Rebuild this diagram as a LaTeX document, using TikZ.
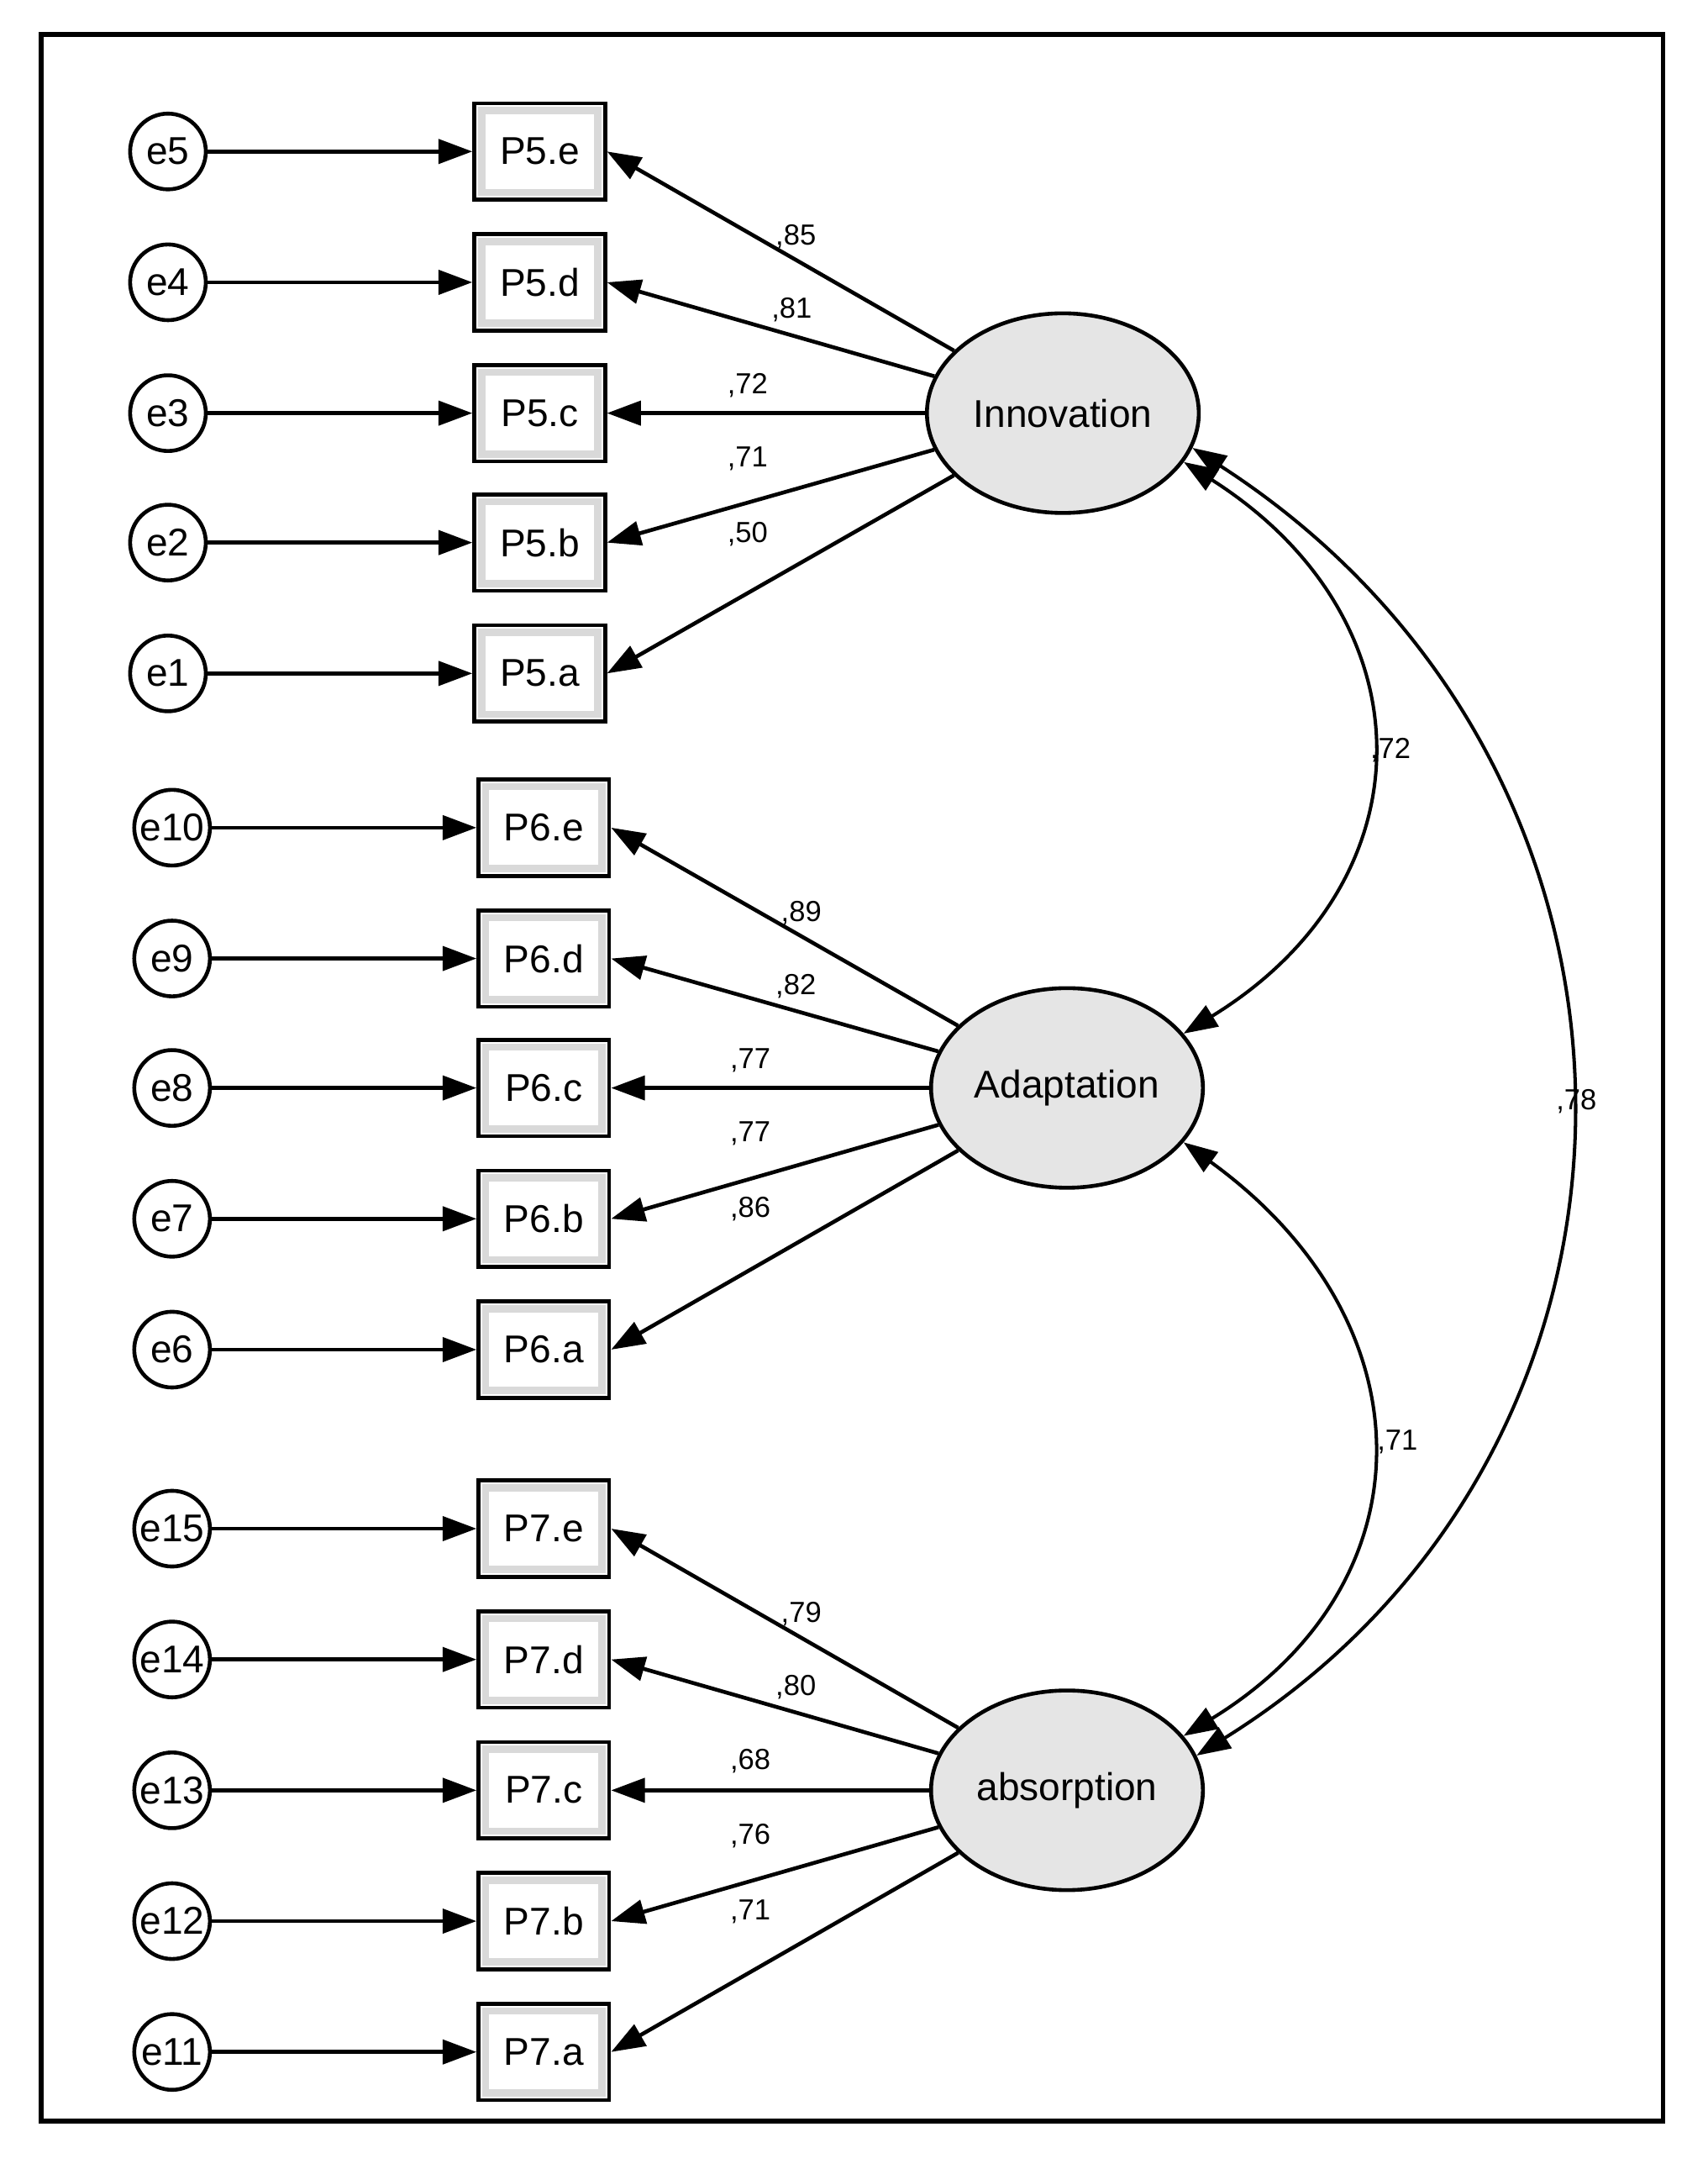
\documentclass[tikz,border=0pt]{standalone}
\usepackage{fontspec}
\setmainfont{Liberation Sans}
\usetikzlibrary{arrows.meta,shapes.geometric}
\begin{document}
\begin{tikzpicture}[x=0.02cm,y=-0.02cm,
  err/.style={circle,draw,line width=1.6pt,minimum size=1.1cm,inner sep=0pt,font=\fontsize{16}{18}\selectfont},
  obs/.style={draw,line width=1.6pt,minimum width=1.9cm,minimum height=1.4cm,inner sep=0pt,font=\fontsize{16}{18}\selectfont,
     path picture={\draw[gray!30,line width=3pt] ([xshift=3pt,yshift=3pt]path picture bounding box.south west) rectangle ([xshift=-3pt,yshift=-3pt]path picture bounding box.north east);}},
  lat/.style={ellipse,draw,line width=1.6pt,fill=gray!20,minimum width=3.95cm,minimum height=2.9cm,inner sep=0pt,font=\fontsize{16}{18}\selectfont},
  arr/.style={-{Triangle[length=14pt,width=10pt]},line width=1.6pt},
  cov/.style={{Triangle[length=14pt,width=10pt]}-{Triangle[length=14pt,width=10pt]},line width=1.4pt},
  lab/.style={font=\fontsize{12}{14}\selectfont,inner sep=1pt}]
\useasboundingbox (0,0) rectangle (1240,1575);
\draw[line width=2pt] (30,25) rectangle (1208,1540);
\node[lat] (L1) at (772,300) {Innovation};
\node[lat] (L2) at (775,790) {Adaptation};
\node[lat] (L3) at (775,1300) {absorption};
\foreach \i/\n/\y/\l/\lx/\ly in {5/e/110/85/578/172, 4/d/205/81/575/225, 3/c/300/72/543/280, 2/b/394/71/543/333, 1/a/489/50/543/388}{
  \node[err] (e\i) at (122,\y) {e\i};
  \node[obs] (P5\n) at (392,\y) {P5.\n};
  \draw[arr] (e\i) -- (P5\n);
  \draw[arr] (L1) -- (P5\n.east);
  \node[lab] at (\lx,\ly) {,\l};
}
\foreach \i/\n/\y/\l/\lx/\ly in {10/e/601/89/582/663, 9/d/696/82/578/716, 8/c/790/77/545/770, 7/b/885/77/545/823, 6/a/980/86/545/878}{
  \node[err] (e\i) at (125,\y) {e\i};
  \node[obs] (P6\n) at (395,\y) {P6.\n};
  \draw[arr] (e\i) -- (P6\n);
  \draw[arr] (L2) -- (P6\n.east);
  \node[lab] at (\lx,\ly) {,\l};
}
\foreach \i/\n/\y/\l/\lx/\ly in {15/e/1110/79/582/1172, 14/d/1205/80/578/1225, 13/c/1300/68/545/1279, 12/b/1395/76/545/1333, 11/a/1490/71/545/1388}{
  \node[err] (e\i) at (125,\y) {e\i};
  \node[obs] (P7\n) at (395,\y) {P7.\n};
  \draw[arr] (e\i) -- (P7\n);
  \draw[arr] (L3) -- (P7\n.east);
  \node[lab] at (\lx,\ly) {,\l};
}
\draw[cov] (L1.-22) .. controls (1040,450) and (1040,640) .. (L2.25);
\draw[cov] (L2.-25) .. controls (1040,960) and (1040,1150) .. (L3.25);
\draw[cov] (L1.-15) .. controls (1230,560) and (1230,1050) .. (L3.15);
\node[lab] at (1010,545) {,72};
\node[lab] at (1015,1047) {,71};
\node[lab] at (1145,800) {,78};
\end{tikzpicture}
\end{document}
